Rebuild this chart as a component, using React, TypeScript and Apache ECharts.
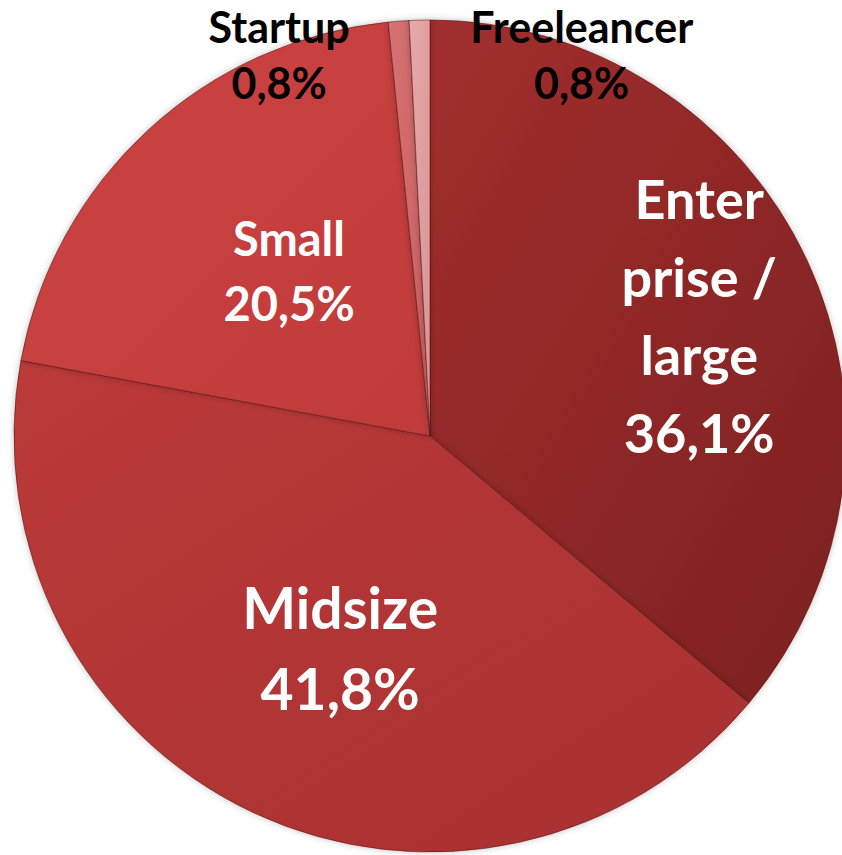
import React, { useEffect, useRef } from "react";
import * as echarts from "echarts";

const categories = ["Enterprise / large", "Midsize", "Small", "Startup", "Freeleancer"];
const labelNames = ["Enter\nprise /\nlarge", "Midsize", "Small", "Startup", "Freeleancer"];
const values = [36.1, 41.8, 20.5, 0.8, 0.8];
const colorsTop = ["#a22f2e", "#bb3a39", "#cd4443", "#d77272", "#e6a9a9"];
const colorsBottom = ["#7c2020", "#a83030", "#c03a3a", "#c85f5f", "#d99494"];

export default function App() {
  const ref = useRef<HTMLDivElement>(null);
  useEffect(() => {
    const chart = echarts.init(ref.current!, undefined, { renderer: "svg" });
    const ent = { color: "#ffffff", fontSize: 54, lineHeight: 78, fontWeight: "bold" as const };
    const big = { color: "#ffffff", fontSize: 57, lineHeight: 81, fontWeight: "bold" as const };
    const mid = { color: "#ffffff", fontSize: 47, lineHeight: 65, fontWeight: "bold" as const };
    const small = { color: "#000000", fontSize: 43, lineHeight: 56, fontWeight: "bold" as const };
    const styles = [
      { ...ent, offset: [78, -31] },
      { ...big, offset: [0, 21] },
      { ...mid, offset: [2, -10] },
      { ...small, offset: [-135, -171] },
      { ...small, offset: [157, -171] },
    ];
    chart.setOption({
      animation: false,
      backgroundColor: "#ffffff",
      series: [
        {
          type: "pie",
          center: [430, 436],
          radius: [0, 416],
          startAngle: 90,
          clockwise: true,
          avoidLabelOverlap: false,
          labelLine: { show: false },
          data: categories.map((name, i) => ({
            name,
            value: values[i],
            itemStyle: {
              color: new echarts.graphic.LinearGradient(0, 0, 1, 1, [
                { offset: 0, color: colorsTop[i] },
                { offset: 1, color: colorsBottom[i] },
              ]),
              borderColor: "rgba(90,20,20,0.55)",
              borderWidth: 1,
              shadowBlur: 6,
              shadowColor: "rgba(0,0,0,0.25)",
            },
            label: {
              show: true,
              position: "inside",
              fontFamily: "Lato, 'Open Sans', sans-serif",
              align: "center",
              formatter: () => `${labelNames[i]}\n${values[i].toFixed(1).replace(".", ",")}%`,
              ...styles[i],
            },
          })),
        },
      ],
    });
    return () => chart.dispose();
  }, []);
  return (
    <div
      ref={ref}
      style={{ position: "fixed", left: 0, top: 0, width: 842, height: 855 }}
    />
  );
}
